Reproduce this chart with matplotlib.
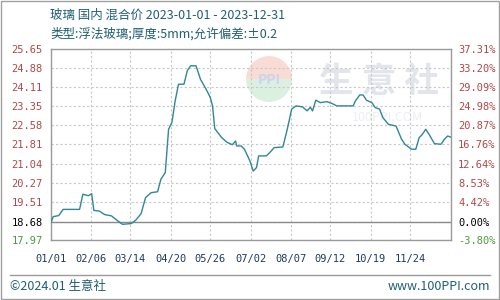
import datetime as dt
import matplotlib
matplotlib.use("Agg")
import matplotlib.pyplot as plt
import matplotlib.dates as mdates
from matplotlib.patches import Wedge

plt.rcParams['font.family'] = ['Noto Sans CJK SC', 'DejaVu Sans']

# ---------------------------------------------------------
# Data
# ---------------------------------------------------------
dates = ["01-01", "01-03", "01-08", "01-12", "01-27", "01-30", "02-04", "02-07",
         "02-09", "02-14", "02-19", "02-25", "03-03", "03-07", "03-15", "03-19",
         "03-24", "03-28", "04-02", "04-08", "04-11", "04-15", "04-18", "04-21",
         "04-24", "04-27", "05-02", "05-05", "05-08", "05-13", "05-17", "05-23",
         "05-26", "05-28", "05-30", "06-05", "06-10", "06-15", "06-18", "06-19",
         "06-23", "06-26", "07-01", "07-04", "07-07", "07-09", "07-16", "07-19",
         "07-23", "07-31", "08-04", "08-08", "08-12", "08-18", "08-22", "08-25",
         "08-27", "08-30", "09-03", "09-09", "09-14", "09-18", "10-03", "10-05",
         "10-09", "10-12", "10-15", "10-20", "10-23", "10-27", "10-30", "11-04",
         "11-11", "11-16", "11-19", "11-25", "11-29", "12-02", "12-05", "12-08",
         "12-11", "12-16", "12-22", "12-25", "12-28", "12-31"]
prices = [18.68, 18.91, 18.95, 19.20, 19.20, 19.81, 19.75, 19.83,
          19.16, 19.13, 18.99, 18.94, 18.73, 18.60, 18.63, 18.76,
          19.03, 19.67, 19.87, 19.91, 20.41, 20.68, 22.42, 22.69,
          23.56, 24.23, 24.23, 24.77, 24.97, 24.97, 24.43, 23.96,
          23.69, 23.36, 22.45, 22.10, 21.90, 21.80, 21.95, 21.75,
          21.75, 21.62, 21.15, 20.74, 20.88, 21.35, 21.35, 21.48,
          21.68, 21.71, 22.42, 23.23, 23.36, 23.32, 23.16, 23.30,
          23.16, 23.59, 23.49, 23.53, 23.45, 23.36, 23.36, 23.56,
          23.80, 23.80, 23.59, 23.49, 23.29, 23.23, 22.89, 22.62,
          22.55, 22.02, 21.82, 21.62, 21.62, 22.08, 22.22, 22.42,
          22.22, 21.84, 21.82, 22.02, 22.15, 22.10]

base_price = 18.68
price_ticks = [17.97, 18.68, 19.51, 20.27, 21.04, 21.81, 22.58, 23.35, 24.11, 24.88, 25.65]
pct_ticks = [-3.80, 0.00, 4.42, 8.53, 12.64, 16.76, 20.87, 24.98, 29.09, 33.20, 37.31]
xtick_dates = ["01-01", "02-06", "03-14", "04-20", "05-26", "07-02",
               "08-07", "09-12", "10-19", "11-24"]

title1 = "玻璃 国内 混合价 2023-01-01 - 2023-12-31"
title2 = "类型:浮法玻璃;厚度:5mm;允许偏差:±0.2"

# ---------------------------------------------------------
# Helpers
# ---------------------------------------------------------
def to_date(s):
    return dt.datetime.strptime("2023-" + s, "%Y-%m-%d")

x = [to_date(d) for d in dates]

TEXT = "#1f5f73"
RED = "#b04848"
GREEN = "#4c9a3c"

def tick_color(i):
    if i == 0:
        return GREEN
    if i == 1:
        return "black"
    return RED

# ---------------------------------------------------------
# Plotting
# ---------------------------------------------------------
fig = plt.figure(figsize=(5, 3), dpi=100)
fig.patch.set_facecolor("white")

# outer border
fig.patches.append(plt.Rectangle((0.002, 0.003), 0.996, 0.994, transform=fig.transFigure,
                                 fill=False, edgecolor="#a0a0a0", linewidth=1))

# watermark logo (behind the chart, own square axes so the circle stays round)
logo = fig.add_axes([0.492, 0.66, 0.092, 0.153])
logo.set_xlim(-1, 1)
logo.set_ylim(-1, 1)
logo.set_aspect("equal")
logo.axis("off")
logo.add_patch(Wedge((0, 0), 1.0, 0, 180, facecolor="#f8dcd5", edgecolor="none"))
logo.add_patch(Wedge((0, 0), 1.0, 180, 360, facecolor="#dcf0e2", edgecolor="none"))
logo.text(0, -0.05, "PPI", ha="center", va="center", fontsize=10,
          color="#c9d5ec", fontweight="bold")

ax = fig.add_axes([0.102, 0.2, 0.8, 0.637])
ax.patch.set_alpha(0)

# watermark text
ax.text(0.82, 0.83, "生 意 社", transform=ax.transAxes, ha="center", va="center",
        fontsize=25, color="#e2e5ec", fontweight="bold", zorder=0)
ax.text(0.84, 0.64, "100PPI.COM", transform=ax.transAxes, ha="center", va="center",
        fontsize=9, color="#eceef2", zorder=0)

ax.plot(x, prices, color="#2f8797", linewidth=1.0, zorder=3)

ax.set_xlim(to_date("01-01"), to_date("12-31"))
ax.set_ylim(price_ticks[0], price_ticks[-1])

ax.set_yticks(price_ticks)
ax.set_yticklabels([f"{p:.2f}" for p in price_ticks], fontsize=7.5,
                   family="DejaVu Sans Mono")
for i, lab in enumerate(ax.get_yticklabels()):
    lab.set_color(tick_color(i))

ax.set_xticks([to_date(d) for d in xtick_dates])
ax.xaxis.set_major_formatter(mdates.DateFormatter("%m/%d"))
for lab in ax.get_xticklabels():
    lab.set_fontsize(7.5)
    lab.set_family("DejaVu Sans Mono")
    lab.set_color("#1e3a5c")

ax.tick_params(axis="both", length=0, pad=6)
ax.tick_params(axis="x", pad=10)

ax.grid(True, color="#c8c8c8", linestyle=(0, (2, 2)), linewidth=0.8)
ax.axhline(base_price, color="#8a8a8a", linewidth=1.0, zorder=2)

for s in ax.spines.values():
    s.set_color("#9a9a9a")
    s.set_linewidth(1.0)

# right axis: change vs base
ax2 = ax.twinx()
ax2.patch.set_alpha(0)
ax2.set_ylim(pct_ticks[0], pct_ticks[-1])
ax2.set_yticks(pct_ticks)
ax2.set_yticklabels([f"{p:.2f}%" for p in pct_ticks], fontsize=7.5,
                    family="DejaVu Sans Mono")
for i, lab in enumerate(ax2.get_yticklabels()):
    lab.set_color(tick_color(i))
ax2.tick_params(axis="y", length=0, pad=5)
for s in ax2.spines.values():
    s.set_visible(False)

# titles
fig.text(0.1, 0.948, title1, fontsize=9, color=TEXT, va="center", ha="left")
fig.text(0.1, 0.888, title2, fontsize=9, color=TEXT, va="center", ha="left")

# footer
fig.add_artist(plt.Line2D([0.02, 0.98], [0.083, 0.083], transform=fig.transFigure,
                          color="#9a9a9a", linewidth=1))
fig.text(0.02, 0.045, "©2024.01 生意社", fontsize=9, color=TEXT, va="center", ha="left")
fig.text(0.98, 0.045, "www.100PPI.com", fontsize=9, color=TEXT, va="center", ha="right")

fig.savefig("out.png", dpi=100)
